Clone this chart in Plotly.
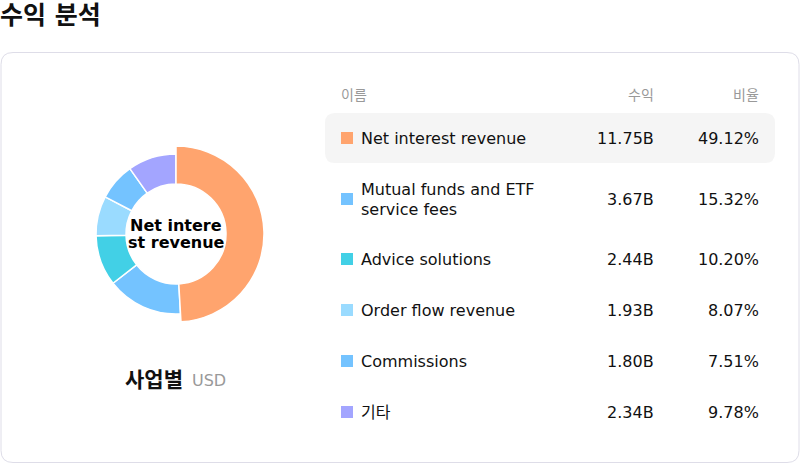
import plotly.graph_objects as go

# revenue breakdown by business segment
names = ['Net interest revenue', 'Mutual funds and ETF<br>service fees', 'Advice solutions',
         'Order flow revenue', 'Commissions', '기타']
revenue = [11.75, 3.67, 2.44, 1.93, 1.80, 2.34]      # USD billions
share = [49.12, 15.32, 10.20, 8.07, 7.51, 9.78]       # percent
colors = ['#FFA46E', '#74C3FF', '#42D0E6', '#9ADBFF', '#74C3FF', '#A3A5FF']

FONT = 'DejaVu Sans, Noto Sans CJK KR, sans-serif'
W, H = 800, 463
cx, cy = 176, 234          # donut centre (px)
r_big, r_small, r_in = 88, 80, 50
active = 0                 # highlighted slice / row


def rounded(x0, y0, x1, y1, r):
    return (f'M{x0 + r},{y0} L{x1 - r},{y0} Q{x1},{y0} {x1},{y0 + r} '
            f'L{x1},{y1 - r} Q{x1},{y1} {x1 - r},{y1} L{x0 + r},{y1} '
            f'Q{x0},{y1} {x0},{y1 - r} L{x0},{y0 + r} Q{x0},{y0} {x0 + r},{y0} Z')


def domain(r):
    return dict(x=[(cx - r) / W, (cx + r) / W],
                y=[(H - cy - r) / H, (H - cy + r) / H])


fig = go.Figure()

# the active slice drawn larger, the others drawn in a smaller ring
for r, show in ((r_small, lambda i: i != active), (r_big, lambda i: i == active)):
    fig.add_trace(go.Pie(
        values=revenue,
        sort=False, direction='clockwise', rotation=0,
        hole=r_in / r,
        domain=domain(r),
        marker=dict(
            colors=[c if show(i) else 'rgba(0,0,0,0)' for i, c in enumerate(colors)],
            line=dict(color=['white' if show(i) else 'rgba(0,0,0,0)' for i in range(len(colors))],
                      width=1.5),
        ),
        textinfo='none', hoverinfo='skip', showlegend=False,
    ))

shapes = [
    dict(type='path', path=rounded(1, 52.5, 799, 462.5, 12), xref='x', yref='y',
         line=dict(color='#DEDDE8', width=1), fillcolor='white', layer='below'),
    dict(type='path', path=rounded(325, 113, 775, 163, 10), xref='x', yref='y',
         line=dict(width=0), fillcolor='#F5F5F5', layer='below'),
]

ann = []


def text(x, y, s, size, color='#111111', anchor='left', bold=False):
    # annotations carry a couple of pixels of padding; compensate for it
    shift = {'left': -2, 'right': 2}.get(anchor, 0)
    ann.append(dict(x=x, y=y, xref='x', yref='y', text=f'<b>{s}</b>' if bold else s,
                    showarrow=False, xanchor=anchor, yanchor='middle', xshift=shift,
                    font=dict(family=FONT, size=size, color=color)))


text(0, 15, '수익 분석', 25, bold=True)

# centre label of the donut
text(cx, 225, 'Net intere', 16, '#000000', 'center', True)
text(cx, 242, 'st revenue', 16, '#000000', 'center', True)

text(183, 380, '사업별', 21, '#111111', 'right', True)
text(192, 380, 'USD', 16, '#999999', 'left')

# table header
text(341, 95, '이름', 14, '#999999')
text(654, 95, '수익', 14, '#999999', 'right')
text(759, 95, '비율', 14, '#999999', 'right')

row_y = [138, 199, 259, 310, 361, 412]
for i, y in enumerate(row_y):
    shapes.append(dict(type='rect', x0=341, x1=353, y0=y - 6, y1=y + 6, xref='x', yref='y',
                       line=dict(width=0), fillcolor=colors[i]))
    lines = names[i].split('<br>')
    for k, ln in enumerate(lines):
        text(361, y + (k - (len(lines) - 1) / 2) * 20, ln, 16)
    text(654, y, f'{revenue[i]:.2f}B', 16, anchor='right')
    text(759, y, f'{share[i]:.2f}%', 16, anchor='right')

fig.update_layout(
    width=W, height=H, autosize=False,
    margin=dict(l=0, r=0, t=0, b=0),
    paper_bgcolor='white', plot_bgcolor='rgba(0,0,0,0)',
    xaxis=dict(range=[0, W], visible=False, fixedrange=True, domain=[0, 1]),
    yaxis=dict(range=[H, 0], visible=False, fixedrange=True, domain=[0, 1]),
    shapes=shapes, annotations=ann,
    font=dict(family=FONT),
)

# drop the default page margin so the figure sits at the window's top-left
fig.write_html('out.html', config={'displayModeBar': False},
               post_script="document.body.style.margin='0';document.body.style.overflow='hidden';")
